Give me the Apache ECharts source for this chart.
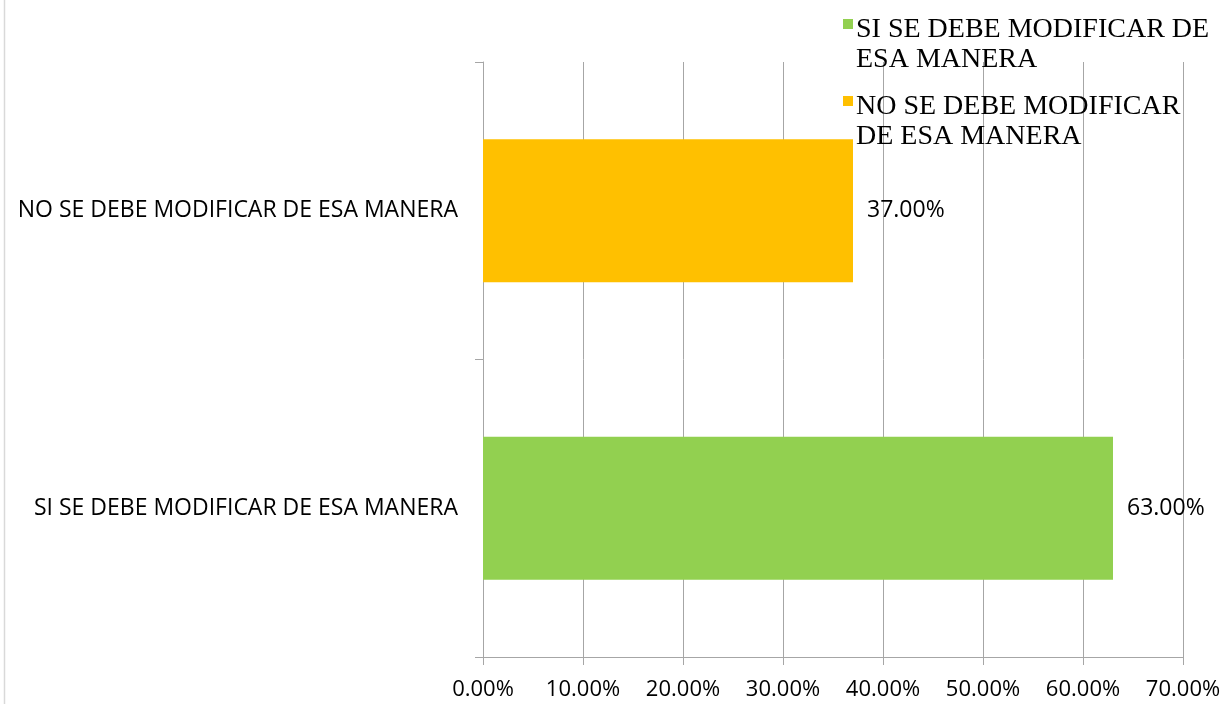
<!DOCTYPE html>
<html>
<head>
<meta charset="utf-8">
<script src="https://cdn.jsdelivr.net/npm/echarts@6/dist/echarts.min.js"></script>
<style>
  html, body { margin: 0; padding: 0; background: #fff; }
  #chart { width: 1229px; height: 704px; }
</style>
</head>
<body>
<div id="chart"></div>
<script>
  var categories = ['SI SE DEBE MODIFICAR DE ESA MANERA', 'NO SE DEBE MODIFICAR DE ESA MANERA'];
  var siValues = [63, null];
  var noValues = [null, 37];
  var xTicks = { min: 0, max: 70, interval: 10 };

  var chart = echarts.init(document.getElementById('chart'));
  // square marker sitting beside the first line of the wrapped legend text
  var legendIcon = 'path://M0,4h10v10h-10z M0,0h0.1v0.1h-0.1z M0,59.9h0.1v0.1h-0.1z';

  var valueLabel = {
    show: true, position: 'right', distance: 14,
    fontFamily: 'Open Sans', fontSize: 23, color: '#000',
    formatter: function (p) { return p.value.toFixed(2) + '%'; }
  };

  var option = {
    animation: false,
    graphic: [{
      type: 'line',
      shape: { x1: 4.5, y1: 0, x2: 4.5, y2: 704 },
      style: { stroke: '#d9d9d9', lineWidth: 1.5 }
    }],
    grid: { left: 483, right: 46, top: 62, bottom: 47 },
    legend: {
      orient: 'vertical',
      left: 838,
      top: 10,
      itemGap: 17,
      itemWidth: 10,
      itemHeight: 60,
      icon: legendIcon,
      textStyle: {
        fontFamily: 'Liberation Serif',
        fontSize: 28,
        lineHeight: 30,
        color: '#000',
        padding: [0, 0, 0, -2]
      },
      formatter: function (name) {
        return name === categories[0] ? 'SI SE DEBE MODIFICAR DE\nESA MANERA' : 'NO SE DEBE MODIFICAR\nDE ESA MANERA';
      },
      data: [categories[0], categories[1]]
    },
    xAxis: {
      type: 'value',
      min: xTicks.min,
      max: xTicks.max,
      interval: xTicks.interval,
      axisLine: { show: true, lineStyle: { color: '#a6a6a6', width: 1 } },
      axisTick: { show: true, length: 8, lineStyle: { color: '#a6a6a6' } },
      splitLine: { show: true, lineStyle: { color: '#a6a6a6', width: 1 } },
      axisLabel: {
        fontFamily: 'Open Sans',
        fontSize: 22,
        color: '#000',
        margin: 22,
        formatter: function (v) { return v.toFixed(2) + '%'; }
      }
    },
    yAxis: {
      type: 'category',
      data: categories,
      axisLine: { show: true, lineStyle: { color: '#a6a6a6', width: 1 } },
      axisTick: { show: true, length: 8, lineStyle: { color: '#a6a6a6' } },
      axisLabel: {
        fontFamily: 'Open Sans',
        fontSize: 23,
        color: '#000',
        margin: 25
      }
    },
    series: [
      {
        name: categories[0],
        type: 'bar',
        data: siValues,
        barWidth: '48%',
        barGap: '-100%',
        itemStyle: { color: '#92d050' },
        label: valueLabel
      },
      {
        name: categories[1],
        type: 'bar',
        data: noValues,
        barWidth: '48%',
        barGap: '-100%',
        itemStyle: { color: '#ffc000' },
        label: valueLabel
      }
    ]
  };
  chart.setOption(option);
</script>
</body>
</html>
